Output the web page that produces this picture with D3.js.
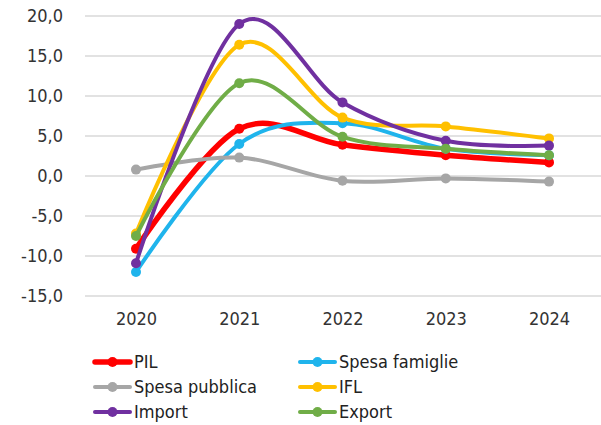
<!DOCTYPE html>
<html><head><meta charset="utf-8">
<script src="https://cdn.jsdelivr.net/npm/d3@7"></script>
<style>body{margin:0;background:#fff}svg{display:block}</style>
</head><body>
<svg id="c" width="601" height="425"></svg>
<script>
const years = ["2020","2021","2022","2023","2024"];
const yTicks = [-15,-10,-5,0,5,10,15,20];
const pil = [-9.1, 5.9, 3.9, 2.6, 1.7];
const spesaFamiglie = [-12.0, 4.0, 6.6, 3.4, 2.6];
const spesaPubblica = [0.8, 2.3, -0.6, -0.3, -0.7];
const ifl = [-7.2, 16.4, 7.3, 6.2, 4.7];
const importV = [-10.9, 19.0, 9.2, 4.4, 3.8];
const exportV = [-7.5, 11.6, 4.9, 3.4, 2.6];
const seriesNames = ["PIL","Spesa famiglie","Spesa pubblica","IFL","Import","Export"];
const colors = ["#ff0000","#1fb4ec","#a6a6a6","#ffc000","#7030a0","#70ad47"];
const seriesValues = [pil, spesaFamiglie, spesaPubblica, ifl, importV, exportV];

const svg = d3.select("#c");
const font = "'Liberation Sans Narrow','DejaVu Sans Condensed',Lato,sans-serif";
const x = d3.scalePoint().domain(years).range([136, 549]);
const y = d3.scaleLinear().domain([-15, 20]).range([296, 16]);

// grid
svg.append("g").selectAll("line").data(yTicks).join("line")
  .attr("x1", 85).attr("x2", 601)
  .attr("y1", d => y(d)).attr("y2", d => y(d))
  .attr("stroke", "#d9d9d9").attr("stroke-width", 1.3);

// y axis labels
const fmt = d => d.toFixed(1).replace(".", ",");
const ya = svg.append("g").attr("transform", "translate(63,0)")
  .call(d3.axisLeft(y).tickValues(yTicks).tickFormat(fmt).tickSize(0).tickPadding(0));
ya.select(".domain").remove();
ya.selectAll("text").attr("font-family", font).attr("font-size", 18).attr("fill", "#333");

// x axis labels
const xa = svg.append("g").attr("transform", "translate(0,312)")
  .call(d3.axisBottom(x).tickSize(0).tickPadding(0));
xa.select(".domain").remove();
xa.selectAll("text").attr("font-family", font).attr("font-size", 18).attr("fill", "#333");

const line = d3.line().x((d, i) => x(years[i])).y(d => y(d)).curve(d3.curveCardinal.tension(0));

seriesValues.forEach((vals, k) => {
  const g = svg.append("g");
  g.append("path").attr("d", line(vals)).attr("fill", "none")
    .attr("stroke", colors[k]).attr("stroke-width", k === 0 ? 5.5 : 4)
    .attr("stroke-linejoin", "round").attr("stroke-linecap", "round");
  g.selectAll("circle").data(vals).join("circle")
    .attr("cx", (d, i) => x(years[i])).attr("cy", d => y(d))
    .attr("r", 5).attr("fill", colors[k]);
});

// legend
const legX = [95, 300];
const legY = [362, 387, 412];
seriesNames.forEach((n, k) => {
  const lx = legX[k % 2], ly = legY[Math.floor(k / 2)];
  const g = svg.append("g").attr("transform", `translate(${lx},${ly})`);
  g.append("line").attr("x1", 0).attr("x2", 35).attr("stroke", colors[k])
    .attr("stroke-width", k === 0 ? 5.5 : 4).attr("stroke-linecap", "round");
  g.append("circle").attr("cx", 17.5).attr("r", 5).attr("fill", colors[k]);
  g.append("text").attr("x", 39).attr("dy", "0.35em").text(n)
    .attr("font-family", font).attr("font-size", 18).attr("fill", "#222");
});
</script>
</body></html>
